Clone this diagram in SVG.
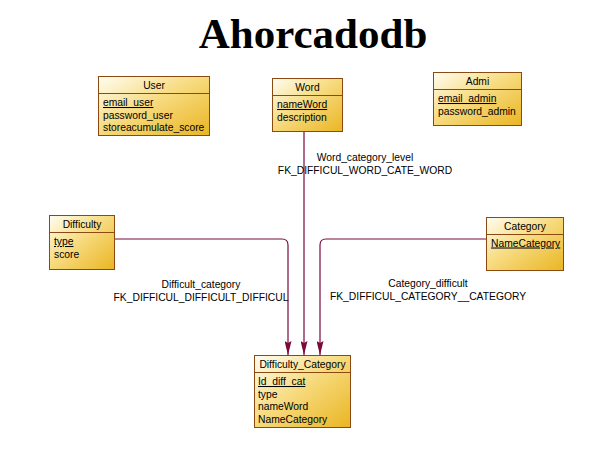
<svg xmlns="http://www.w3.org/2000/svg" width="600" height="467" viewBox="0 0 600 467">
<defs>
<linearGradient id="g" x1="0" y1="0" x2="1" y2="1">
<stop offset="0" stop-color="#fffdf2"/>
<stop offset="0.45" stop-color="#f7dc82"/>
<stop offset="1" stop-color="#eab522"/>
</linearGradient>
<marker id="ah" viewBox="0 0 14 7" refX="14" refY="3.5" markerWidth="14" markerHeight="7" markerUnits="userSpaceOnUse" orient="auto">
<path d="M0,0 L14,3.5 L0,7 L2,3.5 Z" fill="#7a0a3c"/>
</marker>
<style>
.box{fill:url(#g);stroke:#8b4a12;stroke-width:1}
.sep{stroke:#8b4a12;stroke-width:1}
.t{font-family:"Liberation Sans",Arial,sans-serif;font-size:10.3px;fill:#000}
.c{text-anchor:middle}
.u{text-decoration:underline}
.conn{fill:none;stroke:#7a0a3c;stroke-width:1.2}
.lab{font-family:"Liberation Sans",Arial,sans-serif;font-size:10.3px;fill:#000;text-anchor:middle}
</style>
</defs>
<rect width="600" height="467" fill="#fff"/>
<text x="313" y="48" font-family="'Liberation Serif','Times New Roman',serif" font-weight="bold" font-size="43" text-anchor="middle">Ahorcadodb</text>

<g id="connectors">
<path class="conn" d="M304,131 V355" marker-end="url(#ah)"/>
<path class="conn" d="M114,239 H282 Q288,239 288,245 V355" marker-end="url(#ah)"/>
<path class="conn" d="M486,239 H326 Q320,239 320,245 V355" marker-end="url(#ah)"/>
<text class="lab" x="365" y="161">Word_category_level</text>
<text class="lab" x="365" y="174">FK_DIFFICUL_WORD_CATE_WORD</text>
<text class="lab" x="201" y="288">Difficult_category</text>
<text class="lab" x="201" y="301">FK_DIFFICUL_DIFFICULT_DIFFICUL</text>
<text class="lab" x="428" y="287">Category_difficult</text>
<text class="lab" x="428" y="300">FK_DIFFICUL_CATEGORY__CATEGORY</text>
</g>

<g id="User">
<rect class="box" x="98.5" y="76.5" width="111" height="59"/>
<line class="sep" x1="98.5" y1="93.5" x2="209.5" y2="93.5"/>
<text class="t c" x="154" y="89">User</text>
<text class="t u" x="103" y="106">email_user</text>
<text class="t" x="103" y="118.5">password_user</text>
<text class="t" x="103" y="131">storeacumulate_score</text>
</g>

<g id="Word">
<rect class="box" x="272.5" y="78.5" width="70" height="53"/>
<line class="sep" x1="272.5" y1="95.5" x2="342.5" y2="95.5"/>
<text class="t c" x="307.5" y="91">Word</text>
<text class="t u" x="277" y="108">nameWord</text>
<text class="t" x="277" y="120.5">description</text>
</g>

<g id="Admi">
<rect class="box" x="433.5" y="72.5" width="88" height="53"/>
<line class="sep" x1="433.5" y1="89.5" x2="521.5" y2="89.5"/>
<text class="t c" x="477.5" y="85">Admi</text>
<text class="t u" x="438" y="102">email_admin</text>
<text class="t" x="438" y="115">password_admin</text>
</g>

<g id="Difficulty">
<rect class="box" x="49.5" y="215.5" width="65" height="54"/>
<line class="sep" x1="49.5" y1="232.5" x2="114.5" y2="232.5"/>
<text class="t c" x="82" y="228">Difficulty</text>
<text class="t u" x="54" y="245">type</text>
<text class="t" x="54" y="257.5">score</text>
</g>

<g id="Category">
<rect class="box" x="486.5" y="217.5" width="77" height="53"/>
<line class="sep" x1="486.5" y1="234.5" x2="563.5" y2="234.5"/>
<text class="t c" x="525" y="230">Category</text>
<text class="t u" x="491" y="246.5">NameCategory</text>
</g>

<g id="Difficulty_Category">
<rect class="box" x="254.5" y="355.5" width="96" height="72"/>
<line class="sep" x1="254.5" y1="372.5" x2="350.5" y2="372.5"/>
<text class="t c" x="302.5" y="368">Difficulty_Category</text>
<text class="t u" x="258" y="385">Id_diff_cat</text>
<text class="t" x="258" y="397.5">type</text>
<text class="t" x="258" y="410">nameWord</text>
<text class="t" x="258" y="422.5">NameCategory</text>
</g>
</svg>
